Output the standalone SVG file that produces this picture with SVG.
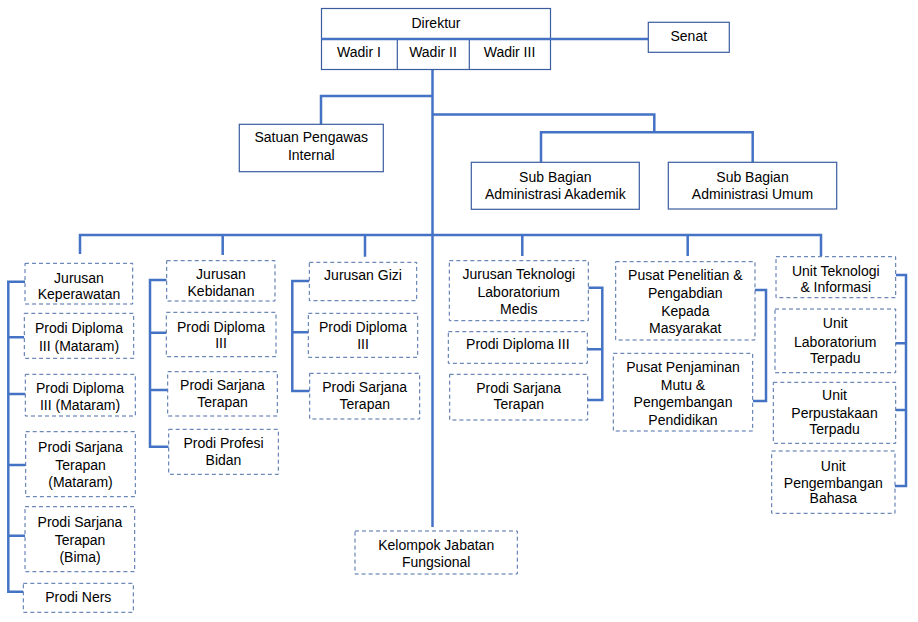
<svg xmlns="http://www.w3.org/2000/svg" width="918" height="622" viewBox="0 0 918 622">
<style>
text{font-family:"Liberation Sans",Arial,sans-serif;font-size:14px;fill:#000;text-anchor:middle}
.s{fill:#fff;stroke:#3B5C9E;stroke-width:1.2}
.d{fill:#fff;stroke:#4A6DA7;stroke-width:1;stroke-dasharray:4 3}
.c{fill:none;stroke:#4472C4;stroke-width:2.5}
.t{fill:none;stroke:#3B5C9E;stroke-width:1.2}
</style>
<rect width="918" height="622" fill="#fff"/>
<g id="connectors">
<path class="c" d="M432.5 69V527"/>
<path class="c" d="M432.5 96H321V124"/>
<path class="c" d="M432.5 114.5H654.3V132.3M541 162V132.3H752.7V162"/>
<path class="c" d="M80 254V235H821V256M222.7 235V255M365 235V256.7M522.3 235V256M687.7 235V256"/>
<path class="c" d="M26.7 281.7H8.3V591.7H23M8.3 337.3H24.3M8.3 394H25.3M8.3 465H25.7M8.3 535.7H25"/>
<path class="c" d="M166.7 280H150V446.7H168.7M150 332.7H166.3M150 390H167.7"/>
<path class="c" d="M309.3 281H292.3V391H309.7M292.3 332.3H308.3"/>
<path class="c" d="M588.3 287.7H602.3V400H587.7M602.3 349.3H587.3"/>
<path class="c" d="M755 290H766V401H752.7"/>
<path class="c" d="M895.7 275H906V486H895M906 343.3H895.7M906 410H895.7"/>
</g>
<g id="direktur">
<rect class="s" x="321.5" y="8.5" width="229" height="61"/>
<path class="t" d="M397.3 39V69.5M469.3 39V69.5"/>
<path class="c" d="M321.5 39H648.3"/>
<text x="436" y="28">Direktur</text>
<text x="359" y="57">Wadir I</text>
<text x="433" y="57">Wadir II</text>
<text x="509.5" y="57">Wadir III</text>
</g>
<g id="senat"><rect class="s" x="648.3" y="22.3" width="81" height="30"/><text x="688.8" y="40.5">Senat</text></g>
<g id="spi"><rect class="s" x="239.3" y="124.3" width="144" height="47.4"/><text x="311.3" y="141.5">Satuan Pengawas</text><text x="311.3" y="160">Internal</text></g>
<g id="sba"><rect class="s" x="471.3" y="162.3" width="168" height="47"/><text x="555.3" y="181.5">Sub Bagian</text><text x="555.3" y="198.5">Administrasi Akademik</text></g>
<g id="sbu"><rect class="s" x="668.3" y="162.3" width="168.4" height="46.7"/><text x="752.5" y="181.5">Sub Bagian</text><text x="752.5" y="199">Administrasi Umum</text></g>

<g id="kep"><rect class="d" x="25" y="263.3" width="107.7" height="40.7"/><text x="79" y="283">Jurusan</text><text x="79" y="298.5">Keperawatan</text></g>
<g id="kep1"><rect class="d" x="24.3" y="313.3" width="109.4" height="45"/><text x="79" y="333">Prodi Diploma</text><text x="79" y="351">III (Mataram)</text></g>
<g id="kep2"><rect class="d" x="25.3" y="374.3" width="110" height="41.7"/><text x="80" y="393">Prodi Diploma</text><text x="80" y="410">III (Mataram)</text></g>
<g id="kep3"><rect class="d" x="25.7" y="431.7" width="109.6" height="65"/><text x="80.5" y="451.5">Prodi Sarjana</text><text x="80.5" y="469.5">Terapan</text><text x="80.5" y="486.5">(Mataram)</text></g>
<g id="kep4"><rect class="d" x="25" y="506.7" width="109.7" height="65"/><text x="80" y="526.5">Prodi Sarjana</text><text x="80" y="544.5">Terapan</text><text x="80" y="561.5">(Bima)</text></g>
<g id="kep5"><rect class="d" x="23.3" y="583.3" width="110" height="29"/><text x="78.3" y="601.5">Prodi Ners</text></g>

<g id="keb"><rect class="d" x="166.7" y="260.7" width="108.3" height="40.3"/><text x="221" y="279">Jurusan</text><text x="221" y="296">Kebidanan</text></g>
<g id="keb1"><rect class="d" x="166.3" y="312.3" width="109.7" height="44.4"/><text x="221" y="331.5">Prodi Diploma</text><text x="221" y="348">III</text></g>
<g id="keb2"><rect class="d" x="167.7" y="371.7" width="109.6" height="44.3"/><text x="222.5" y="390">Prodi Sarjana</text><text x="222.5" y="407">Terapan</text></g>
<g id="keb3"><rect class="d" x="168.7" y="429.3" width="109.6" height="45"/><text x="223.5" y="447.5">Prodi Profesi</text><text x="223.5" y="465">Bidan</text></g>

<g id="gizi"><rect class="d" x="309.3" y="262.3" width="107.4" height="38.4"/><text x="363" y="280">Jurusan Gizi</text></g>
<g id="gizi1"><rect class="d" x="308.3" y="313.3" width="109.4" height="44"/><text x="363" y="332">Prodi Diploma</text><text x="363" y="349">III</text></g>
<g id="gizi2"><rect class="d" x="309.7" y="373.3" width="110" height="45.7"/><text x="364.7" y="392">Prodi Sarjana</text><text x="364.7" y="409">Terapan</text></g>

<g id="tlm"><rect class="d" x="449.3" y="260.7" width="139" height="60"/><text x="518.8" y="279">Jurusan Teknologi</text><text x="518.8" y="296.5">Laboratorium</text><text x="518.8" y="314">Medis</text></g>
<g id="tlm1"><rect class="d" x="448.3" y="331.7" width="139" height="31.6"/><text x="517.8" y="349">Prodi Diploma III</text></g>
<g id="tlm2"><rect class="d" x="449.7" y="374.3" width="138" height="45.7"/><text x="518.7" y="392.5">Prodi Sarjana</text><text x="518.7" y="409">Terapan</text></g>

<g id="p3m"><rect class="d" x="615.7" y="261.7" width="139.3" height="78.3"/><text x="685.3" y="280">Pusat Penelitian &amp;</text><text x="685.3" y="298">Pengabdian</text><text x="685.3" y="316">Kepada</text><text x="685.3" y="333">Masyarakat</text></g>
<g id="p4mp"><rect class="d" x="613.3" y="353.3" width="139.4" height="77.7"/><text x="683" y="371.5">Pusat Penjaminan</text><text x="683" y="390">Mutu &amp;</text><text x="683" y="407">Pengembangan</text><text x="683" y="425">Pendidikan</text></g>

<g id="uti"><rect class="d" x="776" y="256.7" width="119.7" height="41"/><text x="835.8" y="275.5">Unit Teknologi</text><text x="835.8" y="292">&amp; Informasi</text></g>
<g id="ulab"><rect class="d" x="775" y="309" width="120.7" height="63.7"/><text x="835.3" y="328">Unit</text><text x="835.3" y="346.5">Laboratorium</text><text x="835.3" y="363">Terpadu</text></g>
<g id="upus"><rect class="d" x="773.3" y="382.3" width="122.4" height="61"/><text x="834.5" y="400">Unit</text><text x="834.5" y="417.5">Perpustakaan</text><text x="834.5" y="434">Terpadu</text></g>
<g id="ubhs"><rect class="d" x="771.7" y="451" width="123.3" height="62.3"/><text x="833.3" y="471">Unit</text><text x="833.3" y="488">Pengembangan</text><text x="833.3" y="503">Bahasa</text></g>

<g id="kjf"><rect class="d" x="355" y="531" width="162.3" height="43"/><text x="436.2" y="550">Kelompok Jabatan</text><text x="436.2" y="567">Fungsional</text></g>
</svg>
